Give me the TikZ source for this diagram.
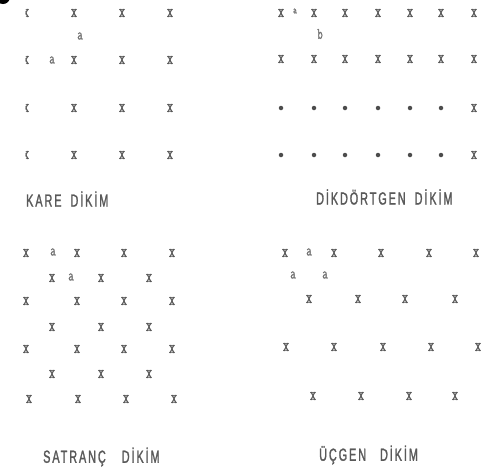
\documentclass[tikz,border=0pt]{standalone}
\usepackage{fontspec}
\newfontfamily\markfont[FakeStretch=0.65, FakeBold=1.5]{Latin Modern Mono}
\newfontfamily\dikimfont[FakeStretch=0.62, LetterSpace=11, FakeBold=1.4]{Liberation Sans}
\begin{document}
\begin{tikzpicture}[x=1pt, y=-1pt,
  mk/.style={inner sep=0pt, text=black!65, font=\markfont\fontsize{18.5}{18.5}\selectfont},
  lt/.style={inner sep=0pt, text=black!55, font=\markfont\fontsize{16}{16}\selectfont},
  dt/.style={circle, fill=black!70, inner sep=0pt, minimum size=4.5pt},
  ttl/.style={inner sep=0pt, anchor=west, text=black!65, font=\dikimfont\fontsize{17.5}{17.5}\selectfont}
]
  \useasboundingbox (0,0) rectangle (492,467);
  \fill[black] (3,-3) circle (7) coordinate (blob);

  %-- Kare dikim
  \begin{scope}
    \clip (25.5,0) rectangle (40,170);
    \foreach \r/\y in {1/13, 2/60, 3/108, 4/155}
      \node[mk] (kare-\r-1) at (26,\y) {x};
  \end{scope}
  \foreach \r/\y in {1/13, 2/60, 3/108, 4/155}
    \foreach \c/\x in {2/74, 3/122, 4/170}
      \node[mk] (kare-\r-\c) at (\x,\y) {x};
  \node[lt] (kare-a1) at (80,36) {a};
  \node[lt] (kare-a2) at (52,60) {a};
  \node[ttl] (kare) at (26,199) {KARE\hspace{9pt}DİKİM};

  %-- Dikdörtgen dikim
  \foreach \c/\x in {1/281, 2/314, 3/345, 4/378, 5/410, 6/441, 7/474} {
    \node[mk] (dik-1-\c) at (\x,13) {x};
    \node[mk] (dik-2-\c) at (\x,59) {x};
  }
  \foreach \c/\x in {1/281, 2/314, 3/345, 4/378, 5/410, 6/441} {
    \node[dt] (dik-3-\c) at (\x,108) {};
    \node[dt] (dik-4-\c) at (\x,155) {};
  }
  \node[mk] (dik-3-7) at (474,108) {x};
  \node[mk] (dik-4-7) at (474,155) {x};
  \node[lt, font=\markfont\fontsize{11}{11}\selectfont] (dik-a) at (295,11) {a};
  \node[lt] (dik-b) at (320,34) {b};
  \node[ttl] (dikdortgen) at (316,197) {DİKDÖRTGEN\hspace{9pt}DİKİM};

  %-- Satranç dikim
  \foreach \r/\y in {1/253, 3/301, 5/349}
    \foreach \c/\x in {1/26, 2/77, 3/124, 4/172}
      \node[mk] (sat-\r-\c) at (\x,\y) {x};
  \foreach \c/\x in {1/29, 2/78, 3/126, 4/174}
    \node[mk] (sat-7-\c) at (\x,399) {x};
  \foreach \r/\y in {2/278, 4/327, 6/374}
    \foreach \c/\x in {1/52, 2/101, 3/149}
      \node[mk] (sat-\r-\c) at (\x,\y) {x};
  \node[lt] (sat-a1) at (53,252) {a};
  \node[lt] (sat-a2) at (71,277) {a};
  \node[ttl] (satranc) at (43,457) {SATRANÇ\hspace{16pt}DİKİM};

  %-- Üçgen dikim
  \foreach \c/\x in {1/285, 2/334, 3/381, 4/429, 5/476}
    \node[mk] (ucg-1-\c) at (\x,253) {x};
  \foreach \c/\x in {1/309, 2/358, 3/405, 4/455}
    \node[mk] (ucg-2-\c) at (\x,299) {x};
  \foreach \c/\x in {1/286, 2/334, 3/383, 4/431, 5/478}
    \node[mk] (ucg-3-\c) at (\x,347) {x};
  \foreach \c/\x in {1/313, 2/361, 3/409, 4/455}
    \node[mk] (ucg-4-\c) at (\x,396) {x};
  \node[lt] (ucg-a1) at (309,252) {a};
  \node[lt] (ucg-a2) at (293,275) {a};
  \node[lt] (ucg-a3) at (325,275) {a};
  \node[ttl] (ucgen) at (319,455) {ÜÇGEN\hspace{14pt}DİKİM};
\end{tikzpicture}
\end{document}
